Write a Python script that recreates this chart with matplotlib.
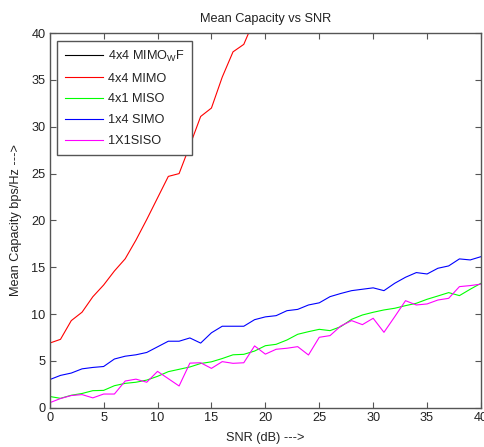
import matplotlib
matplotlib.use("Agg")
import matplotlib.pyplot as plt

snr_db = list(range(0, 41))

# 4x4 MIMO leaves the top of the plot near 19 dB, only the visible part is read
snr_mimo = list(range(0, 21))
cap_mimo = [6.9, 7.3, 9.3, 10.2, 11.85, 13.1, 14.6, 15.9, 17.9, 20.1,
            22.4, 24.7, 25.0, 28.0, 31.1, 32.0, 35.3, 38.0, 38.8, 41.5, 43.5]
# the water-filling curve only shows up in the legend of the reference
snr_mimo_wf = []
cap_mimo_wf = []

cap_miso = [1.2, 1.0, 1.33, 1.52, 1.82, 1.85, 2.35, 2.6, 2.72, 2.95,
            3.35, 3.85, 4.1, 4.35, 4.72, 4.9, 5.25, 5.65, 5.7, 6.05,
            6.62, 6.77, 7.23, 7.84, 8.12, 8.37, 8.23, 8.66, 9.44, 9.9,
            10.19, 10.44, 10.62, 10.9, 11.15, 11.58, 11.93, 12.29, 11.97, 12.65,
            13.29]
cap_simo = [3.0, 3.45, 3.7, 4.15, 4.3, 4.4, 5.2, 5.5, 5.65, 5.9,
            6.5, 7.1, 7.1, 7.45, 6.9, 8.0, 8.7, 8.7, 8.7, 9.4,
            9.7, 9.83, 10.36, 10.5, 10.97, 11.2, 11.86, 12.2, 12.5, 12.65,
            12.8, 12.5, 13.29, 13.93, 14.43, 14.28, 14.89, 15.14, 15.89, 15.78,
            16.13]
cap_siso = [0.53, 0.98, 1.3, 1.4, 1.05, 1.46, 1.46, 2.85, 3.05, 2.72,
            3.88, 3.1, 2.32, 4.76, 4.8, 4.2, 4.92, 4.74, 4.8, 6.6,
            5.72, 6.24, 6.35, 6.52, 5.63, 7.52, 7.7, 8.73, 9.3, 8.87,
            9.55, 8.05, 9.72, 11.43, 10.97, 11.08, 11.5, 11.68, 12.93, 13.04,
            13.2]

plt.rcParams["font.family"] = ["Liberation Sans", "DejaVu Sans"]
plt.rcParams["mathtext.fontset"] = "custom"
plt.rcParams["mathtext.rm"] = "Liberation Sans"

TXT = "#222222"
EDGE = "#555555"
FS = 9.2

fig = plt.figure(figsize=(4.84, 4.47), dpi=100)
ax = fig.add_axes([0.1027, 0.0879, 0.8911, 0.838])

lw = 0.8
ax.plot(snr_mimo_wf, cap_mimo_wf, color="black", lw=lw, label=r"4x4 MIMO$_\mathrm{W}$F")
ax.plot(snr_mimo, cap_mimo, color="#ff0000", lw=lw, label="4x4 MIMO")
ax.plot(snr_db, cap_miso, color="#00ff00", lw=lw, label="4x1 MISO")
ax.plot(snr_db, cap_simo, color="#0000ff", lw=lw, label="1x4 SIMO")
ax.plot(snr_db, cap_siso, color="#ff00ff", lw=lw, label="1X1SISO")

ax.set_xlim(0, 40)
ax.set_ylim(0, 40)
ax.set_xticks(range(0, 41, 5))
ax.set_yticks(range(0, 41, 5))
ax.tick_params(direction="in", top=True, right=True, length=4, width=0.8,
               colors=EDGE, labelcolor=TXT, labelsize=FS, pad=3)
for s in ax.spines.values():
    s.set_color(EDGE)
    s.set_linewidth(1.0)

ax.set_title("Mean Capacity vs SNR", fontsize=FS, color=TXT, pad=8)
ax.set_xlabel("SNR (dB) --->", fontsize=FS, color=TXT, labelpad=6)
ax.set_ylabel("Mean Capacity bps/Hz --->", fontsize=FS, color=TXT, labelpad=7)

leg = ax.legend(loc="upper left", fontsize=FS, frameon=True, fancybox=False,
                framealpha=1, edgecolor=EDGE, handlelength=3.0, handletextpad=0.35,
                labelspacing=0.7, borderaxespad=0.6, borderpad=0.6)
leg.get_frame().set_linewidth(1.0)
for t in leg.get_texts():
    t.set_color(TXT)

fig.savefig("out.png", dpi=100)
